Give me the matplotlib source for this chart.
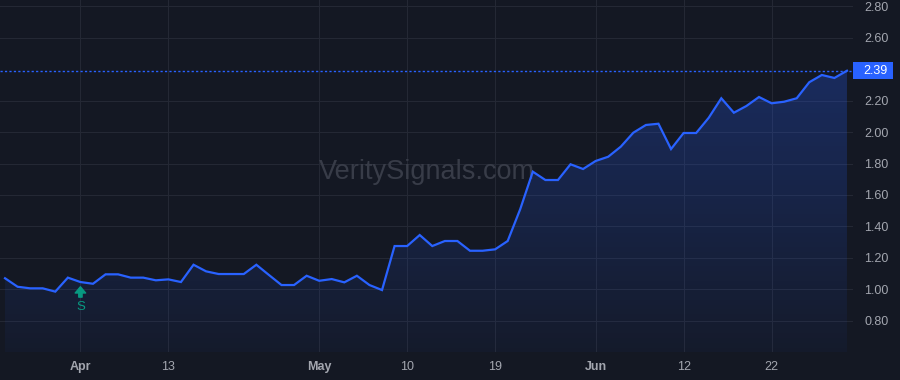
import numpy as np
import matplotlib
matplotlib.use("Agg")
import matplotlib.pyplot as plt
from matplotlib.patches import Polygon, Rectangle
from matplotlib.colors import LinearSegmentedColormap
import matplotlib.transforms as mtransforms

# ---- data -------------------------------------------------------------
values = [1.07, 1.016, 1.006, 1.006, 0.985, 1.074, 1.046, 1.035, 1.095, 1.095,
          1.074, 1.074, 1.057, 1.063, 1.046, 1.156, 1.114, 1.097, 1.097, 1.097,
          1.156, 1.091, 1.027, 1.027, 1.086, 1.054, 1.065, 1.044, 1.086, 1.027,
          0.995, 1.275, 1.275, 1.345, 1.275, 1.307, 1.307, 1.245, 1.245, 1.254,
          1.307, 1.51, 1.748, 1.695, 1.695, 1.795, 1.765, 1.816, 1.843, 1.907,
          1.996, 2.045, 2.053, 1.892, 1.994, 1.994, 2.091, 2.215, 2.123, 2.166,
          2.223, 2.183, 2.193, 2.215, 2.317, 2.363, 2.344, 2.39]
tick_index = [6, 13, 25, 32, 39, 47, 54, 61]
tick_labels = ["Apr", "13", "May", "10", "19", "Jun", "12", "22"]
bold_labels = {"Apr", "May", "Jun"}
y_ticks = [0.80, 1.00, 1.20, 1.40, 1.60, 1.80, 2.00, 2.20, 2.60, 2.80]
last_value = 2.39
signal_index = 6
signal_label = "S"
watermark = "VeritySignals.com"

# ---- style ------------------------------------------------------------
BG = "#141823"
GRID = "#242834"
LINE = "#2962ff"
TXT = "#a3a6af"
GREEN = "#089981"
FONT = ["Liberation Sans", "DejaVu Sans"]
plt.rcParams["font.family"] = FONT

W, H = 900, 380
fig = plt.figure(figsize=(W / 100, H / 100), dpi=100, facecolor=BG)
ax_w, ax_b = 853, 28
ax = fig.add_axes([0, ax_b / H, ax_w / W, (H - ax_b) / H], facecolor=BG)

x = np.arange(len(values))
y = np.array(values)
ymin, ymax = 0.601, 2.840
xmin, xmax = -0.4, len(values) - 1 + 0.48

ax.set_yticks(y_ticks)
ax.set_yticklabels([f"{v:.2f}" for v in y_ticks])
ax.set_xticks(tick_index)
ax.set_xticklabels(tick_labels)
ax.grid(True, color=GRID, linewidth=0.8, zorder=0)
ax.set_axisbelow(True)
for lbl in ax.get_xticklabels():
    if lbl.get_text() in bold_labels:
        lbl.set_fontweight("bold")

# watermark
ax.text(0.5, 0.51, watermark, transform=ax.transAxes, ha="center", va="center",
        fontsize=19.5, color="#383c48", zorder=1, family=FONT)

# gradient fill under line
verts = [(x[0], ymin)] + list(zip(x, y)) + [(x[-1], ymin)]
poly = Polygon(verts, closed=True, facecolor="none", edgecolor="none")
ax.add_patch(poly)
cmap = LinearSegmentedColormap.from_list(
    "g", [(0.161, 0.384, 1.0, 0.04), (0.161, 0.384, 1.0, 0.27)])
grad = np.linspace(0, 1, 256).reshape(-1, 1)
im = ax.imshow(grad, extent=[x[0], x[-1], ymin, y.max()], origin="lower",
               aspect="auto", cmap=cmap, zorder=2, interpolation="bilinear")
im.set_clip_path(poly)

# main line
ax.plot(x, y, color=LINE, linewidth=1.6, zorder=4, solid_joinstyle="miter")

# last value line
ax.axhline(last_value, color=LINE, linewidth=1.0, linestyle=(0, (1.6, 1.6)), zorder=3)

# signal marker
ax.annotate("", xy=(signal_index, 1.016), xytext=(signal_index, 0.950),
            arrowprops=dict(facecolor=GREEN, edgecolor=GREEN, width=2.4,
                            headwidth=7.5, headlength=4.5, shrink=0), zorder=5)
ax.text(signal_index, 0.888, signal_label, color=GREEN, fontsize=9.5,
        ha="center", va="center", zorder=5)

ax.set_xlim(xmin, xmax)
ax.set_ylim(ymin, ymax)

for s in ax.spines.values():
    s.set_visible(False)
ax.yaxis.tick_right()
ax.tick_params(axis="y", length=0, pad=8, labelsize=9, labelcolor=TXT)
ax.tick_params(axis="x", length=0, pad=6.5, labelsize=9, labelcolor=TXT)

# last value label box
trans = mtransforms.blended_transform_factory(ax.transAxes, ax.transData)
box_h = 17 / 157.2
rect = Rectangle((1.0, last_value - box_h / 2), 40 / ax_w, box_h, transform=trans,
                 facecolor=LINE, edgecolor="none", clip_on=False, zorder=6)
ax.add_patch(rect)
ax.text(1.0 + 22 / ax_w, last_value, f"{last_value:.2f}", transform=trans,
        ha="center", va="center", color="white", fontsize=9, zorder=7,
        clip_on=False)

fig.savefig("out.png", dpi=100, facecolor=BG)
